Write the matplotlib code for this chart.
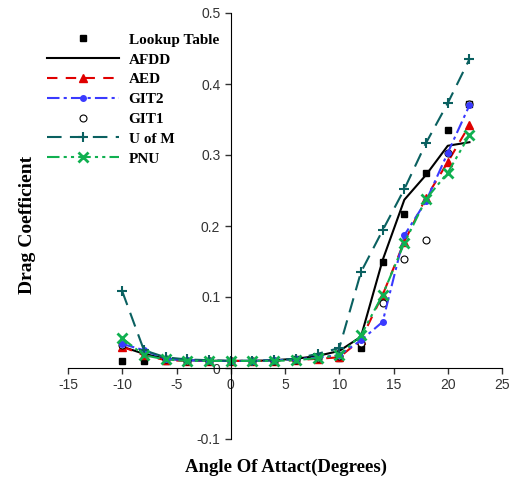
import matplotlib
matplotlib.use("Agg")
import matplotlib.pyplot as plt

plt.rcParams['axes.unicode_minus'] = False

angles = [-10, -8, -6, -4, -2, 0, 2, 4, 6, 8, 10, 12, 14, 16, 18, 20, 22]
lookup = [0.010, 0.010, 0.010, 0.010, 0.010, 0.010, 0.010, 0.010, 0.012, 0.015, 0.014, 0.028, 0.149, 0.217, 0.275, 0.335, 0.372]
afdd = [0.030, 0.020, 0.013, 0.011, 0.010, 0.010, 0.010, 0.011, 0.013, 0.017, 0.024, 0.044, 0.152, 0.237, 0.272, 0.313, 0.318]
aed = [0.030, 0.018, 0.011, 0.010, 0.010, 0.010, 0.010, 0.010, 0.011, 0.013, 0.015, 0.040, 0.103, 0.178, 0.240, 0.290, 0.342]
git2 = [0.034, 0.025, 0.013, 0.011, 0.010, 0.010, 0.010, 0.011, 0.012, 0.015, 0.018, 0.039, 0.065, 0.187, 0.235, 0.303, 0.370]
git1 = [0.032, 0.022, 0.012, 0.010, 0.010, 0.010, 0.010, 0.010, 0.011, 0.014, 0.017, 0.035, 0.092, 0.153, 0.180, 0.303, 0.372]
uofm = [0.108, 0.025, 0.015, 0.012, 0.011, 0.010, 0.010, 0.011, 0.013, 0.020, 0.028, 0.135, 0.194, 0.252, 0.317, 0.373, 0.435]
pnu = [0.042, 0.018, 0.012, 0.010, 0.010, 0.010, 0.010, 0.010, 0.011, 0.014, 0.018, 0.046, 0.103, 0.176, 0.238, 0.275, 0.328]

xticks = [-15, -10, -5, 0, 5, 10, 15, 20, 25]
yticks = [-0.1, 0, 0.1, 0.2, 0.3, 0.4, 0.5]
ytick_labels = ['-0.1', '0', '0.1', '0.2', '0.3', '0.4', '0.5']

serif = ['Liberation Serif', 'DejaVu Serif']
narrow = ['Liberation Sans Narrow', 'Liberation Sans', 'DejaVu Sans']

fig = plt.figure(figsize=(5.15, 4.82), dpi=100)
ax = fig.add_axes([68 / 515, 43 / 482, 434 / 515, 426 / 482])

ax.plot(angles, lookup, 's', color='black', ms=5, label='Lookup Table')
ax.plot(angles, afdd, '-', color='black', lw=1.5, label='AFDD')
ax.plot(angles, aed, '--', color='#e00000', lw=1.5, marker='^', ms=6, dashes=(5, 4), label='AED')
ax.plot(angles, git1, 'o', mfc='white', mec='black', mew=0.8, ms=5, label='GIT1')
ax.plot(angles, git2, '-.', color='#3a3aff', lw=1.5, marker='o', ms=4, dashes=(6, 2, 1.5, 2), label='GIT2')
ax.plot(angles, uofm, '--', color='#0a6060', lw=1.5, marker='+', ms=7, mew=1.5, dashes=(7, 4), label='U of M')
ax.plot(angles, pnu, '-.', color='#10b050', lw=1.5, marker='x', ms=7, mew=2, dashes=(6, 2, 1.5, 2, 1.5, 2), label='PNU')

ax.set_xlim(-15, 25)
ax.set_ylim(-0.1, 0.5)
ax.spines['left'].set_position(('data', 0))
ax.spines['bottom'].set_position(('data', 0))
ax.spines['top'].set_visible(False)
ax.spines['right'].set_visible(False)
ax.set_xticks(xticks)
ax.set_yticks(yticks)
ax.set_yticklabels(ytick_labels)
ax.tick_params(direction='out', length=4, width=1, colors='#333333', labelsize=10)
for lab in ax.get_xticklabels() + ax.get_yticklabels():
    lab.set_family(narrow)

handles, labels = ax.get_legend_handles_labels()
order = ['Lookup Table', 'AFDD', 'AED', 'GIT2', 'GIT1', 'U of M', 'PNU']
hmap = dict(zip(labels, handles))
leg = ax.legend([hmap[k] for k in order], order, loc='upper left',
                bbox_to_anchor=(47 / 515, 1 - 33 / 482),
                bbox_transform=fig.transFigure, frameon=False, handlelength=4.7,
                handletextpad=0.65, labelspacing=0.4, borderpad=0, borderaxespad=0,
                prop={'family': serif, 'weight': 'bold', 'size': 11})

fig.text(286 / 515, 1 - 467 / 482, 'Angle Of Attact(Degrees)', ha='center', va='center',
         family=serif, weight='bold', size=13.5)
fig.text(27 / 515, 1 - 225 / 482, 'Drag Coefficient', ha='center', va='center',
         rotation=90, family=serif, weight='bold', size=14)

fig.savefig('out.png', dpi=100)
